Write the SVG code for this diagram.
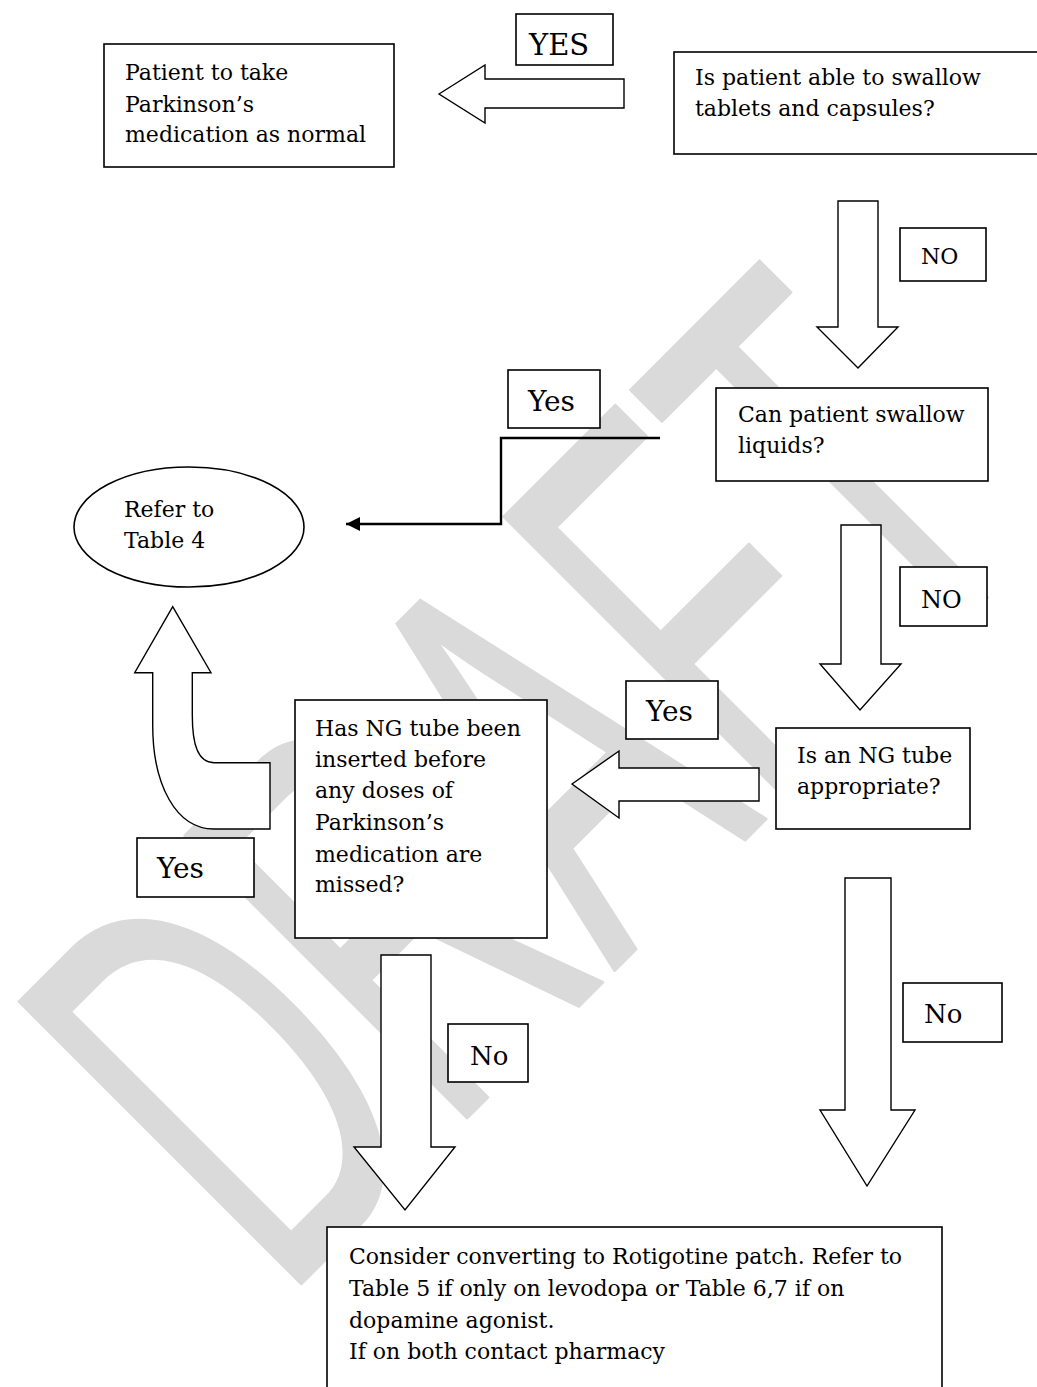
<svg xmlns="http://www.w3.org/2000/svg" width="1037" height="1387" viewBox="0 0 1037 1387">
<style>
.box{fill:#fff;stroke:#000;stroke-width:1.6}
.arr{fill:#fff;stroke:#000;stroke-width:1.4;stroke-linejoin:miter}
.t{font-family:"DejaVu Serif","Liberation Serif",serif;font-size:22px;fill:#000}
.lb{font-family:"DejaVu Serif","Liberation Serif",serif;fill:#000}
.wm{font-family:"Liberation Sans",Arial,sans-serif;font-size:580px;fill:#dadada;stroke:#dadada;stroke-width:3;stroke-linejoin:round}
.ln{fill:none;stroke:#000;stroke-width:2.4}
</style>
<defs>
<marker id="ah" markerUnits="userSpaceOnUse" markerWidth="16" markerHeight="14" refX="14" refY="7" orient="auto">
<path d="M0,0 L14,7 L0,14 Z" fill="#000"/>
</marker>
</defs>
<rect width="1037" height="1387" fill="#fff"/>
<g id="watermark">
<text class="wm" transform="translate(282,1303) rotate(-45) scale(0.56,1)">DRAFT</text>
</g>
<g id="connectors">
<path class="arr" d="M439,94 L485,65 L485,79 L624,79 L624,108 L485,108 L485,123 Z"/>
<path class="arr" d="M838,201 L878,201 L878,327 L898,327 L858,368 L817,327 L838,327 Z"/>
<path class="ln" d="M660,438 L501,438 L501,524 L346,524" marker-end="url(#ah)"/>
<path class="arr" d="M841,525 L881,525 L881,664 L901,664 L860,710 L820,664 L841,664 Z"/>
<path class="arr" d="M572,784 L619,751 L619,768 L759,768 L759,801 L619,801 L619,818 Z"/>
<path class="arr" d="M192.3,672.7 L192.3,715 C192.3,745 198,762.7 214,762.7 L270,762.7 L270,829 L214,829 C176,829 152.7,785 152.7,725 L152.7,672.7 L134.7,672.7 L172.7,606.7 L211,672.7 Z"/>
<path class="arr" d="M381,955 L431,955 L431,1147 L455,1147 L405,1210 L354,1147 L381,1147 Z"/>
<path class="arr" d="M845,878 L891,878 L891,1110 L915,1110 L867,1186 L820,1110 L845,1110 Z"/>
</g>
<g id="n-take-as-normal">
<rect class="box" x="104" y="44" width="290" height="123"/>
<text class="t" x="125" y="80">Patient to take</text>
<text class="t" x="125" y="112">Parkinson’s</text>
<text class="t" x="125" y="142">medication as normal</text>
</g>
<g id="l-yes-1">
<rect class="box" x="516" y="14" width="97" height="51"/>
<text class="lb" x="529" y="55" font-size="29">YES</text>
</g>
<g id="n-swallow-tablets">
<rect class="box" x="674" y="52" width="370" height="102"/>
<text class="t" x="695" y="85">Is patient able to swallow</text>
<text class="t" x="695" y="116">tablets and capsules?</text>
</g>
<g id="l-no-1">
<rect class="box" x="900" y="228" width="86" height="53"/>
<text class="lb" x="921" y="264" font-size="22">NO</text>
</g>
<g id="n-swallow-liquids">
<rect class="box" x="716" y="388" width="272" height="93"/>
<text class="t" x="738" y="422">Can patient swallow</text>
<text class="t" x="738" y="453">liquids?</text>
</g>
<g id="l-yes-2">
<rect class="box" x="508" y="370" width="92" height="58"/>
<text class="lb" x="528" y="411" font-size="28">Yes</text>
</g>
<g id="n-table4">
<ellipse class="box" cx="189" cy="527" rx="115" ry="60"/>
<text class="t" x="124" y="517">Refer to</text>
<text class="t" x="124" y="548">Table 4</text>
</g>
<g id="l-no-2">
<rect class="box" x="900" y="567" width="87" height="59"/>
<text class="lb" x="921" y="608" font-size="24">NO</text>
</g>
<g id="n-ng-appropriate">
<rect class="box" x="776" y="728" width="194" height="101"/>
<text class="t" x="797" y="763">Is an NG tube</text>
<text class="t" x="797" y="794">appropriate?</text>
</g>
<g id="l-yes-3">
<rect class="box" x="626" y="681" width="92" height="58"/>
<text class="lb" x="646" y="721" font-size="28">Yes</text>
</g>
<g id="n-ng-inserted">
<rect class="box" x="295" y="700" width="252" height="238"/>
<text class="t" x="315" y="736">Has NG tube been</text>
<text class="t" x="315" y="767">inserted before</text>
<text class="t" x="315" y="798">any doses of</text>
<text class="t" x="315" y="830">Parkinson’s</text>
<text class="t" x="315" y="862">medication are</text>
<text class="t" x="315" y="892">missed?</text>
</g>
<g id="l-yes-4">
<rect class="box" x="137" y="838" width="117" height="59"/>
<text class="lb" x="157" y="878" font-size="28">Yes</text>
</g>
<g id="l-no-3">
<rect class="box" x="448" y="1024" width="80" height="58"/>
<text class="lb" x="470" y="1065" font-size="26">No</text>
</g>
<g id="l-no-4">
<rect class="box" x="903" y="983" width="99" height="59"/>
<text class="lb" x="924" y="1023" font-size="26">No</text>
</g>
<g id="n-rotigotine">
<rect class="box" x="327" y="1227" width="615" height="170"/>
<text class="t" x="349" y="1264">Consider converting to Rotigotine patch. Refer to</text>
<text class="t" x="349" y="1296">Table 5 if only on levodopa or Table 6,7 if on</text>
<text class="t" x="349" y="1328">dopamine agonist.</text>
<text class="t" x="349" y="1359">If on both contact pharmacy</text>
</g>
</svg>
